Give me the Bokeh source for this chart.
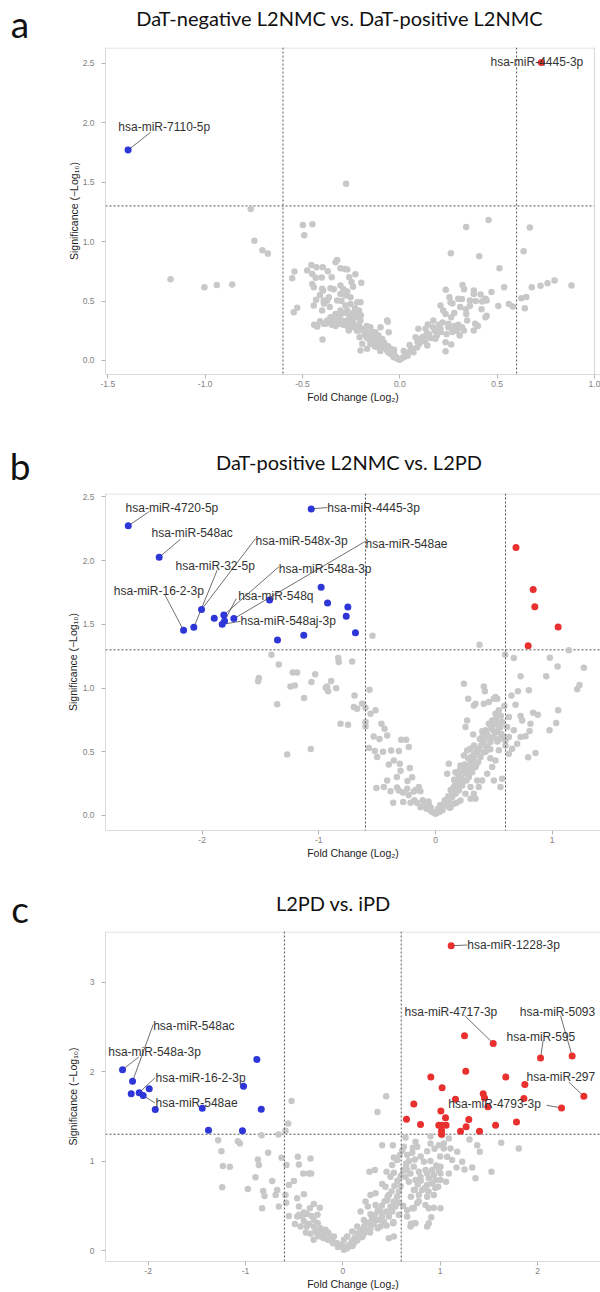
from bokeh.plotting import figure
from bokeh.models import Range1d, FixedTicker, Span, Label, Div
from bokeh.layouts import column
from bokeh.embed import file_html
from bokeh.resources import INLINE

# ---------------- data ----------------
# Panel a : DaT-negative L2NMC vs. DaT-positive L2NMC
a_grey_x = [-0.766, -0.747, -0.706, -0.678, -1.178, -1.004, -0.940, -0.861, -0.553, -0.541, -0.545, -0.527,
            -0.498, -0.449, -0.491, -0.276, 0.341, 0.456, 0.668, 0.262, 0.408, 0.512, 0.636, 0.882, 0.795,
            0.759, 0.723, 0.678, 0.650, 0.624, 0.642, 0.581, 0.560, 0.506, 0.536, 0.471, 0.446, 0.440, 0.401,
            0.423, 0.415, 0.380, 0.360, 0.322, 0.319, 0.341, 0.346, 0.380, 0.329, 0.307, 0.293, 0.261, 0.236,
            0.255, 0.261, 0.223, 0.235, 0.264, 0.209, 0.249, 0.209, 0.192, 0.172, 0.144, 0.132, 0.095, 0.081,
            0.106, 0.141, 0.183, 0.235, 0.264, 0.141, 0.089, 0.055, 0.038, 0.021, 0.000, -0.013, -0.031,
            -0.048, -0.065, -0.082, -0.099, -0.116, -0.134, -0.151, -0.168, -0.193, -0.202, -0.171, -0.207,
            -0.065, -0.057, -0.099, -0.125, -0.151, -0.185, -0.211, -0.236, -0.262, -0.202, -0.219, -0.245,
            -0.270, -0.296, -0.322, -0.347, -0.373, -0.391, -0.424, -0.397, -0.399, -0.356, -0.305, -0.270,
            -0.253, -0.219, -0.202, -0.253, -0.279, -0.305, -0.322, -0.391, -0.365, -0.442, -0.399, -0.356,
            -0.339, -0.305, -0.248, -0.198, -0.228, -0.305, -0.283, -0.270, -0.330, -0.322, -0.396, -0.428,
            -0.454, -0.476, -0.450, -0.432, -0.401, -0.450, -0.442, -0.394, -0.373, -0.279, -0.305, -0.330,
            -0.347, 0.235, -0.426, -0.062, 0.387, 0.446, -0.05, -0.08, -0.12, -0.03, 0.03, 0.06, 0.10, 0.12,
            0.15, 0.18, -0.15, -0.18, -0.22, -0.25, -0.28, -0.10, -0.02, 0.01, -0.06, -0.14, -0.24, -0.23,
            -0.21, 0.20, 0.22, 0.30, 0.31, 0.28,
            -0.44, -0.41, -0.38, -0.35, -0.33, -0.31, -0.29, -0.27, -0.26, -0.24, -0.23, -0.21, -0.19, -0.17,
            -0.16, -0.14, -0.13, -0.11, -0.09, -0.07, -0.06, -0.04, -0.03, -0.09, -0.11, -0.13, -0.17, -0.20,
            -0.22, -0.26, -0.29, -0.31, -0.36, -0.39, -0.41, -0.43, -0.27, -0.30, -0.24, -0.26, -0.29, -0.35,
            -0.37, 0.04, 0.07, 0.09, 0.11, 0.13, 0.16, 0.19, 0.21, 0.24, 0.27, 0.25, 0.28, 0.32, 0.34, 0.36,
            0.39, 0.42, 0.44, 0.38, 0.30, 0.27, 0.33, 0.17, 0.14, 0.05, 0.02]
a_grey_y = [1.275, 1.008, 0.927, 0.899, 0.683, 0.616, 0.636, 0.639, 0.692, 0.749, 0.406, 0.443,
            1.140, 1.146, 1.053, 1.487, 1.123, 1.182, 1.118, 0.902, 0.877, 0.776, 0.918, 0.630, 0.672,
            0.650, 0.628, 0.616, 0.535, 0.524, 0.440, 0.454, 0.476, 0.459, 0.616, 0.577, 0.376, 0.364, 0.291,
            0.496, 0.555, 0.588, 0.504, 0.636, 0.518, 0.392, 0.336, 0.252, 0.252, 0.210, 0.252, 0.280, 0.594,
            0.532, 0.490, 0.420, 0.392, 0.364, 0.462, 0.280, 0.266, 0.252, 0.336, 0.303, 0.266, 0.266, 0.196,
            0.182, 0.210, 0.182, 0.154, 0.134, 0.126, 0.112, 0.084, 0.056, 0.028, 0.006, 0.014, 0.028,
            0.056, 0.084, 0.112, 0.140, 0.112, 0.168, 0.140, 0.098, 0.140, 0.084, 0.196, 0.196,
            0.336, 0.238, 0.280, 0.238, 0.280, 0.266, 0.252, 0.280, 0.252, 0.336, 0.364, 0.350,
            0.336, 0.336, 0.336, 0.336, 0.336, 0.308, 0.286, 0.176, 0.420, 0.364, 0.420, 0.420,
            0.476, 0.490, 0.490, 0.532, 0.546, 0.560, 0.504, 0.504, 0.532, 0.462, 0.603, 0.608,
            0.599, 0.630, 0.661, 0.653, 0.725, 0.776, 0.770, 0.765, 0.826, 0.846, 0.784, 0.784,
            0.804, 0.756, 0.728, 0.695, 0.697, 0.644, 0.616, 0.588, 0.504, 0.462, 0.392, 0.392,
            0.364, 0.078, 0.288, 0.325, 0.308, 0.504, 0.10, 0.15, 0.18, 0.06, 0.05, 0.10, 0.14, 0.20,
            0.22, 0.25, 0.20, 0.22, 0.25, 0.30, 0.32, 0.08, 0.03, 0.02, 0.12, 0.24, 0.40, 0.44,
            0.42, 0.30, 0.32, 0.30, 0.45, 0.40,
            0.30, 0.33, 0.31, 0.30, 0.29, 0.31, 0.30, 0.29, 0.34, 0.32, 0.28, 0.30, 0.26, 0.24,
            0.18, 0.15, 0.12, 0.14, 0.11, 0.10, 0.07, 0.05, 0.09, 0.18, 0.21, 0.22, 0.29, 0.38,
            0.40, 0.38, 0.40, 0.38, 0.45, 0.48, 0.55, 0.51, 0.58, 0.50, 0.62, 0.70, 0.60, 0.70,
            0.75, 0.04, 0.07, 0.16, 0.18, 0.16, 0.19, 0.21, 0.24, 0.22, 0.24, 0.31, 0.29, 0.28, 0.43, 0.46,
            0.50, 0.43, 0.52, 0.56, 0.52, 0.48, 0.60, 0.28, 0.23, 0.13, 0.08]
a_down_x = [-1.396]
a_down_y = [1.77]
a_up_x = [0.727]
a_up_y = [2.507]
a_names = ["hsa-miR-7110-5p", "hsa-miR-4445-3p"]

# Panel b : DaT-positive L2NMC vs. L2PD
b_grey_x = [-0.540, 0.377, 0.597, 0.671, 1.143, 0.980, 1.046, 1.271, 0.949, 0.729, 0.800, 0.706, 0.651, 0.686,
            1.214, 1.234, 1.051, 1.034, 0.977, 0.857, 0.794, 0.729, 0.743, 0.837, 0.877, 0.814, 0.806, 0.771,
            0.729, 0.700, 0.657, 0.629, 0.629, 0.614, 0.629, 0.600, 0.671,
            -1.406, -1.343, -1.514, -1.520, -1.223, -1.186, -1.357, -1.243, -1.206, -1.126, -1.031, -1.063,
            -1.271, -1.069, -0.940, -0.920, -0.894, -0.851, -0.929, -0.834, -0.829, -0.714, -0.814, -0.749,
            -0.694, -0.700, -0.671, -0.629, -0.600, -0.566, -0.557, -0.514, -0.600, -0.600, -0.463, -0.437,
            -0.414, -0.571, -0.520, -0.500, -0.380, -0.314, -0.294, -0.251, -0.229, -0.357, -0.306, -0.220,
            -0.414, -0.331, -0.443, -0.506, -0.386, -0.314, -0.243, -0.143, -0.129, -0.186, -0.363, -0.277,
            -0.214, -0.157, -0.100, -0.057, -0.129, -0.077, -0.043, -0.014, 0.000, 0.029, 0.057, 0.086,
            0.114, 0.143, 0.171, 0.200, 0.229, 0.266, 0.286, 0.314, 0.343, 0.366, 0.386, 0.414, 0.443,
            0.471, 0.500, 0.529, 0.557, 0.571, 0.100, 0.071, 0.157, 0.214, 0.257, 0.300, 0.329, 0.357,
            0.271, 0.114, 0.100, 0.171, 0.214, 0.243, 0.300, 0.400, 0.429, 0.457, 0.486, 0.514, 0.543,
            0.529, 0.500, 0.457, 0.414, 0.329, 0.343, 0.280, 0.271, 0.257, 0.323, 0.243, 0.414, 0.423,
            0.514, 0.563, 0.543, 0.514, 0.486, 0.443, 0.400, 0.371, 0.329, 0.300, 0.343, 0.557, 0.571,
            0.500, 0.357, 0.300, 0.257, 0.214, 0.157, 0.129, 0.043,
            0.20, 0.23, 0.28, 0.33, 0.38, 0.45, 0.48, 0.52, 0.05, 0.09, -0.03, -0.09, 0.18, 0.36, 0.42,
            0.47, 0.55, 0.60,
            0.02, 0.04, 0.06, 0.08, 0.11, 0.13, 0.15, 0.17, 0.19, 0.22, 0.24, 0.26, 0.28, 0.30, 0.32, 0.34,
            0.35, 0.37, 0.39, 0.41, 0.43, 0.44, 0.46, 0.48, 0.50, 0.52, 0.54, 0.56, 0.58, 0.59, 0.25, 0.21,
            0.19, 0.16, 0.31, 0.40, 0.47, 0.53, 0.12, 0.18,
            -0.04, -0.06, -0.11, -0.18, -0.23, -0.28, -0.33, -0.24, -0.30, -0.40, -0.45, -0.48, -0.53, -0.20,
            -0.17]
b_grey_y = [1.411, 1.340, 1.262, 1.236, 1.296, 1.238, 1.170, 1.160, 1.092, 1.092, 0.982, 0.974, 0.942, 0.869,
            0.990, 1.024, 0.825, 0.725, 0.668, 0.490, 0.456, 0.780, 0.746, 0.806, 0.791, 0.720, 0.662, 0.621,
            0.615, 0.563, 0.524, 0.484, 0.772, 0.694, 0.615, 0.589, 0.668,
            1.262, 1.184, 1.079, 1.053, 1.123, 1.123, 0.872, 1.013, 1.021, 0.922, 1.108, 1.047,
            0.479, 0.521, 1.003, 0.974, 1.055, 0.998, 1.013, 1.236, 1.204, 1.209, 0.720, 0.712,
            0.942, 0.851, 0.838, 0.877, 0.846, 0.987, 0.798, 0.825, 0.733, 0.699, 0.720, 0.681,
            0.628, 0.529, 0.505, 0.458, 0.510, 0.505, 0.594, 0.594, 0.537, 0.432, 0.406, 0.372,
            0.275, 0.301, 0.223, 0.215, 0.191, 0.196, 0.209, 0.223, 0.191, 0.189, 0.100, 0.105,
            0.100, 0.097, 0.105, 0.086, 0.065, 0.052, 0.039, 0.021, 0.013, 0.026, 0.052, 0.079,
            0.118, 0.144, 0.170, 0.196, 0.236, 0.275, 0.301, 0.340, 0.380, 0.419, 0.458, 0.497, 0.537,
            0.576, 0.615, 0.655, 0.694, 0.733, 0.105, 0.092, 0.223, 0.275, 0.327, 0.406, 0.484, 0.524,
            0.510, 0.406, 0.327, 0.340, 0.393, 0.471, 0.524, 0.615, 0.668, 0.720, 0.746, 0.799, 0.825,
            0.916, 0.916, 0.890, 0.877, 0.864, 0.877, 0.916, 0.746, 0.694, 0.636, 1.034, 1.013, 0.974,
            0.930, 0.641, 0.511, 0.432, 0.380, 0.327, 0.275, 0.223, 0.170, 0.131, 0.131, 0.223, 0.288,
            0.275, 0.275, 0.223, 0.170, 0.118, 0.092, 0.065, 0.039,
            0.30, 0.35, 0.45, 0.55, 0.60, 0.62, 0.68, 0.72, 0.07, 0.12, 0.03, 0.07, 0.28, 0.50, 0.55,
            0.45, 0.60, 0.55,
            0.05, 0.08, 0.04, 0.12, 0.15, 0.20, 0.18, 0.25, 0.23, 0.30, 0.27, 0.36, 0.33, 0.38, 0.44, 0.47,
            0.40, 0.52, 0.55, 0.58, 0.50, 0.64, 0.60, 0.70, 0.66, 0.76, 0.70, 0.78, 0.62, 0.86, 0.40, 0.36,
            0.33, 0.28, 0.46, 0.66, 0.52, 0.58, 0.06, 0.10,
            0.06, 0.11, 0.12, 0.12, 0.16, 0.18, 0.22, 0.27, 0.35, 0.40, 0.50, 0.60, 0.62, 0.30,
            0.20]
b_down_x = [-2.633, -2.368, -1.065, -2.005, -2.159, -2.071, -1.896, -1.814, -1.808, -1.828, -1.728, -1.422,
            -1.354, -1.129, -0.980, -0.925, -0.751, -0.765, -0.686]
b_down_y = [2.273, 2.027, 2.406, 1.616, 1.453, 1.477, 1.548, 1.574, 1.526, 1.500, 1.545, 1.691,
            1.377, 1.414, 1.791, 1.668, 1.636, 1.563, 1.435]
b_up_x = [0.690, 0.837, 0.851, 1.051, 0.794]
b_up_y = [2.103, 1.773, 1.639, 1.479, 1.333]
b_names = ["hsa-miR-4720-5p", "hsa-miR-548ac", "hsa-miR-4445-3p", "hsa-miR-548x-3p", "hsa-miR-548ae",
           "hsa-miR-32-5p", "hsa-miR-548a-3p", "hsa-miR-16-2-3p", "hsa-miR-548q", "hsa-miR-548aj-3p"]

# Panel c : L2PD vs. iPD
c_grey_x = [-0.527, 0.445, 0.356, -0.561, -0.589, -0.661, -1.281, -1.078, -1.057, -1.247, -1.233, -1.161,
            -1.239, -0.835, -0.767, -0.873, -0.863, -0.897, -0.976, -0.818, -0.805, -0.829, -0.725, -0.674,
            -0.690, -0.657, -0.630, -0.579, -0.554, -0.589, -0.582, -0.554, -0.462, -0.451, -0.332, -0.407,
            -0.349, -0.325, -0.503, -0.469, -0.400, -0.451, -0.400, -0.339, -0.298, -0.236, -0.469, -0.417,
            -0.370, -0.322, -0.298, -0.257, -0.493, -0.434, -0.370, -0.298, -0.229, -0.178, -0.332, -0.264,
            -0.202, -0.143, -0.092, -0.161, -0.109, -0.058, -0.024, 0.011, 0.045, 0.079, 0.113, 0.148,
            0.182, 0.216, 0.250, 0.284, 0.319, 0.370, 0.404, 0.449, 0.490, 0.524, 0.558, 0.576, 0.593,
            0.558, 0.586, 0.610, 0.524, 0.507, 0.524, 0.490, 0.449, 0.404, 0.514, 0.274, 0.329, 0.404,
            0.438, 0.336, 0.284, 0.233, 0.257, 0.182, 0.284, 0.387, 0.336, 0.456, 0.473, 0.319, 0.216,
            0.148, 0.096, 0.045, 0.011, -0.006, 0.387, 0.421, 0.473, 0.507, 0.541, 0.576, 0.518, 0.473,
            0.524, 0.576, 0.593, 0.644, 0.661, 0.651, 0.627, 0.644, 0.661, 0.713, 0.747, 0.764, 0.740,
            0.832, 0.729, 0.781, 0.695, 0.678, 0.747, 0.798, 0.866, 0.883, 0.935, 0.986, 1.003, 0.918,
            0.952, 0.866, 0.815, 0.729, 0.781, 0.866, 0.935, 0.979, 1.003, 1.003, 1.061, 1.089, 0.849,
            0.764, 0.713, 0.729, 0.661, 0.729, 0.695, 0.747, 0.883, 0.935, 0.908, 0.883, 0.866, 1.003,
            0.866, 0.942, 0.901, 0.986, 1.037, 1.089, 1.020, 0.901, 1.072, 1.123, 1.175, 1.226, 1.168,
            1.250, 1.329, 1.363, 1.407, 1.380, 1.301, 1.527, 1.627, 1.808, 1.106, 1.037,
            0.03, 0.06, 0.09, 0.12, 0.15, 0.19, 0.22, 0.26, 0.30, 0.33, 0.36, 0.40, 0.43, 0.46, 0.50, 0.53,
            0.56, 0.60, 0.62, 0.65, 0.68, 0.70, 0.74, 0.77, 0.80, 0.84, 0.88, 0.92, 0.95, 0.62, 0.66, 0.58,
            0.52, 0.45, 0.36, 0.28, 0.20, 0.10, 0.70, 0.78, 0.85, 0.90, 0.96, 1.00, 0.80, 0.72,
            -0.05, -0.10, -0.15, -0.20, -0.25, -0.20, -0.15, -0.28, -0.35, -0.40, -0.45, -0.38, -0.30, -0.10,
            -0.26]
c_grey_y = [1.672, 1.725, 1.550, 1.420, 1.338, 1.297, 1.234, 1.223, 1.197, 1.111, 0.944, 0.937,
            0.706, 1.289, 1.093, 1.018, 0.955, 0.818, 0.688, 0.666, 0.610, 0.472, 0.777, 0.677,
            0.621, 0.491, 1.037, 0.955, 0.732, 0.621, 0.535, 0.387, 1.048, 0.963, 1.030, 0.862,
            0.862, 0.862, 0.777, 0.584, 0.628, 0.491, 0.424, 0.472, 0.520, 0.479, 0.379, 0.379,
            0.409, 0.387, 0.342, 0.305, 0.297, 0.268, 0.268, 0.268, 0.249, 0.231, 0.186, 0.193,
            0.186, 0.175, 0.156, 0.127, 0.101, 0.082, 0.045, 0.008, 0.026, 0.052, 0.082, 0.112,
            0.149, 0.186, 0.223, 0.249, 0.297, 0.342, 0.387, 0.435, 0.491, 0.547, 0.602, 0.658, 0.721,
            1.011, 1.067, 1.115, 1.041, 0.955, 0.870, 0.825, 0.881, 1.178, 1.178, 0.881, 0.899, 0.743,
            0.713, 0.639, 0.621, 0.547, 0.491, 0.435, 0.405, 0.435, 0.509, 0.565, 0.621, 0.342, 0.342,
            0.268, 0.212, 0.156, 0.119, 0.064, 0.268, 0.324, 0.379, 0.435, 0.491, 0.535, 0.305, 0.138,
            0.156, 0.398, 0.825, 0.825, 0.899, 0.974, 1.159, 1.264, 1.067, 1.093, 1.216, 1.159, 1.018,
            0.992, 0.937, 0.881, 0.862, 0.769, 0.788, 0.825, 0.862, 0.807, 0.844, 0.899, 0.937, 0.899,
            0.788, 0.732, 0.677, 0.677, 0.621, 0.602, 0.621, 0.713, 0.788, 0.862, 0.769, 0.862, 0.509,
            0.528, 0.472, 0.472, 0.379, 0.305, 0.268, 0.305, 0.472, 0.479, 0.372, 0.305, 0.268, 0.472,
            1.111, 1.137, 1.197, 1.178, 1.197, 1.252, 1.289, 1.278, 1.048, 1.011, 1.104, 0.992, 0.929,
            0.907, 0.929, 0.807, 1.104, 1.178, 1.241, 0.881, 1.204, 1.141, 1.141, 1.141,
            0.03, 0.06, 0.10, 0.14, 0.19, 0.23, 0.27, 0.31, 0.36, 0.40, 0.45, 0.50, 0.55, 0.60, 0.66, 0.72,
            0.78, 0.84, 0.90, 0.95, 1.00, 0.60, 0.68, 0.74, 0.78, 0.70, 0.66, 0.75, 0.70, 0.50, 0.45, 0.40,
            0.32, 0.28, 0.25, 0.20, 0.15, 0.05, 0.30, 0.55, 0.90, 1.00, 0.95, 1.05, 1.05, 1.15,
            0.04, 0.08, 0.12, 0.14, 0.16, 0.22, 0.20, 0.22, 0.30, 0.33, 0.40, 0.20, 0.12, 0.15,
            0.40]
c_down_x = [-2.263, -2.160, -2.174, -2.092, -2.051, -1.989, -0.883, -1.020, -1.927, -1.444, -0.838,
            -1.380, -1.031]
c_down_y = [2.022, 1.892, 1.754, 1.765, 1.732, 1.810, 2.137, 1.836, 1.576, 1.590, 1.579, 1.345, 1.338]
c_up_x = [1.113, 1.250, 1.545, 2.031, 2.356, 0.904, 1.263, 1.674, 1.020, 1.870, 2.476, 1.442, 1.456,
          1.157, 1.860, 0.729, 1.490, 2.247, 1.007, 1.055, 0.654, 0.798, 0.986, 1.020, 1.061, 1.294,
          1.267, 1.209, 1.404, 1.569, 1.784, 1.014, 1.014]
c_up_y = [3.408, 2.401, 2.316, 2.152, 2.174, 1.940, 2.003, 1.940, 1.821, 1.855, 1.724, 1.753, 1.706,
          1.691, 1.699, 1.639, 1.606, 1.594, 1.561, 1.483, 1.468, 1.408, 1.401, 1.401, 1.401, 1.464,
          1.383, 1.334, 1.334, 1.401, 1.438, 1.338, 1.301]
c_names = ["hsa-miR-1228-3p", "hsa-miR-4717-3p", "hsa-miR-5093", "hsa-miR-595", "hsa-miR-297",
           "hsa-miR-4793-3p", "hsa-miR-548ac", "hsa-miR-548a-3p", "hsa-miR-16-2-3p", "hsa-miR-548ae"]

titles = ["DaT-negative L2NMC vs. DaT-positive L2NMC", "DaT-positive L2NMC vs. L2PD", "L2PD vs. iPD"]
letters = ["a", "b", "c"]

a_xticks = [-1.5, -1.0, -0.5, 0.0, 0.5, 1.0]
a_xlabels = ["-1.5", "-1.0", "-0.5", "0.0", "0.5", "1.0"]
a_yticks = [0.0, 0.5, 1.0, 1.5, 2.0, 2.5]
a_ylabels = ["0.0", "0.5", "1.0", "1.5", "2.0", "2.5"]
b_xticks = [-2, -1, 0, 1]
b_xlabels = ["-2", "-1", "0", "1"]
b_yticks = [0.0, 0.5, 1.0, 1.5, 2.0, 2.5]
b_ylabels = ["0.0", "0.5", "1.0", "1.5", "2.0", "2.5"]
c_xticks = [-2, -1, 0, 1, 2]
c_xlabels = ["-2", "-1", "0", "1", "2"]
c_yticks = [0, 1, 2, 3]
c_ylabels = ["0", "1", "2", "3"]

fc_cut = 0.6
p_cut = 1.3

# ---------------- styling / layout ----------------
W = 600
GREY = "#c8c8c8"
BLUE = "#2f36d8"
RED = "#e8302e"
FRAME = "#dadada"


def make_header(h, title, t_cx, t_top, letter, l_cx, l_top):
    span = ('<span style="position:absolute;left:{x}px;top:{t}px;transform:translateX(-50%);'
            'font-family:Lato,sans-serif;font-size:{s}px;line-height:{s}px;white-space:nowrap;'
            'color:#111111;">{txt}</span>')
    html = ('<div style="position:relative;width:%dpx;height:%dpx;">' % (W, h)
            + span.format(x=t_cx, t=t_top, s=20, txt=title)
            + span.format(x=l_cx, t=l_top, s=37, txt=letter)
            + '</div>')
    return Div(text=html, width=W, height=h, margin=0)


def make_panel(height, bb, xr, yr, x_vis_end, xt, xl, yt, yl, ylab_standoff,
               gx, gy, dx, dy, ux, uy, names, name_pos, segs, right_border):
    p = figure(width=W, height=height, x_range=Range1d(*xr), y_range=Range1d(*yr),
               output_backend="svg", toolbar_location=None,
               min_border_left=105, min_border_right=0, min_border_top=2, min_border_bottom=bb)
    p.grid.visible = False
    p.outline_line_color = None

    for ax in (p.xaxis, p.yaxis):
        ax.axis_line_color = FRAME
        ax.major_tick_line_color = "#b4b4b4"
        ax.minor_tick_line_color = None
        ax.major_tick_in = 0
        ax.major_tick_out = 4
        ax.major_label_text_font = "Liberation Sans"
        ax.major_label_text_font_size = "8.5px"
        ax.major_label_text_color = "#7f7f7f"
        ax.axis_label_text_font = "Liberation Sans"
        ax.axis_label_text_font_size = "10.5px"
        ax.axis_label_text_font_style = "normal"
        ax.axis_label_text_color = "#1e1e1e"
    p.xaxis.ticker = FixedTicker(ticks=xt)
    p.xaxis.major_label_overrides = dict(zip(xt, xl))
    p.yaxis.ticker = FixedTicker(ticks=yt)
    p.yaxis.major_label_overrides = dict(zip(yt, yl))
    p.xaxis.axis_label = "Fold Change (Log\u2082)"
    p.yaxis.axis_label = "Significance (\u2212Log\u2081\u2080)"
    p.xaxis.major_label_standoff = 2
    p.xaxis.axis_label_standoff = 1
    p.yaxis.major_label_standoff = 7
    p.yaxis.axis_label_standoff = ylab_standoff

    # top border (and right border for panel a), kept inside the frame
    ytop = yr[1] - (yr[1] - yr[0]) * 0.0015
    p.segment([xr[0]], [ytop], [x_vis_end], [ytop], line_color=FRAME, line_width=1.2)
    if right_border:
        p.add_layout(Span(location=x_vis_end, dimension="height", line_color=FRAME, line_width=1.2))

    for loc in (-fc_cut, fc_cut):
        p.add_layout(Span(location=loc, dimension="height", line_color="#555555",
                          line_width=1, line_dash="2 2"))
    p.segment([xr[0]], [p_cut], [x_vis_end], [p_cut], line_color="#555555", line_width=1, line_dash="2 2")

    if segs:
        p.segment([s[0] for s in segs], [s[1] for s in segs], [s[2] for s in segs], [s[3] for s in segs],
                  line_color="#4a4a4a", line_width=0.8)

    p.scatter(gx, gy, size=6.5, color=GREY, line_color=None)
    p.scatter(dx, dy, size=7, color=BLUE, line_color=None)
    p.scatter(ux, uy, size=7, color=RED, line_color=None)

    for name, (lx, ly) in zip(names, name_pos):
        p.add_layout(Label(x=lx, y=ly, text=name, text_font="Liberation Sans", text_font_size="12px",
                           text_color="#333333", text_align="left", text_baseline="middle"))
    return p


ha = make_header(45, titles[0], 339.5, 8, letters[0], 20, 5)
pa = make_panel(367, 38, (-1.512, 1.031), (-0.118, 2.633), 1.0, a_xticks, a_xlabels, a_yticks, a_ylabels, 0,
                a_grey_x, a_grey_y, a_down_x, a_down_y, a_up_x, a_up_y, a_names,
                [(-1.446, 1.961), (0.466, 2.515)],
                [(a_down_x[0], a_down_y[0], -1.28, 1.92)], True)

hb = make_header(79, titles[1], 349, 40, letters[1], 20, 35)
pb = make_panel(371, 32, (-2.828, 1.414), (-0.118, 2.527), 1.414, b_xticks, b_xlabels, b_yticks, b_ylabels, 1,
                b_grey_x, b_grey_y, b_down_x, b_down_y, b_up_x, b_up_y, b_names,
                [(-2.656, 2.417), (-2.434, 2.215), (-0.928, 2.417), (-1.542, 2.155), (-0.600, 2.134),
                 (-2.228, 1.958), (-1.343, 1.932), (-2.757, 1.762), (-1.691, 1.723), (-1.671, 1.524)],
                [(-2.633, 2.273, -2.457, 2.383), (-2.368, 2.027, -2.185, 2.168), (-1.065, 2.406, -0.928, 2.417),
                 (-2.005, 1.616, -1.542, 2.174), (-1.728, 1.545, -0.600, 2.152), (-2.071, 1.477, -1.871, 1.925),
                 (-1.814, 1.574, -1.343, 1.951), (-2.159, 1.453, -2.317, 1.728), (-1.808, 1.526, -1.708, 1.702),
                 (-1.828, 1.500, -1.671, 1.524)], False)

hc = make_header(67, titles[2], 333, 31, letters[2], 20, 28)
pc = make_panel(363, 30, (-2.438, 2.647), (-0.123, 3.567), 2.647, c_xticks, c_xlabels, c_yticks, c_ylabels, 8,
                c_grey_x, c_grey_y, c_down_x, c_down_y, c_up_x, c_up_y, c_names,
                [(1.278, 3.416), (0.634, 2.672), (1.818, 2.672), (1.682, 2.386), (1.887, 1.940),
                 (1.083, 1.643), (-1.948, 2.505), (-2.410, 2.218), (-1.924, 1.929), (-1.924, 1.650)],
                [(1.113, 3.408, 1.278, 3.416), (1.545, 2.316, 1.250, 2.628), (2.356, 2.174, 2.236, 2.628),
                 (2.031, 2.152, 2.058, 2.349), (2.476, 1.724, 2.321, 1.884), (2.247, 1.594, 2.092, 1.624),
                 (-2.160, 1.892, -1.948, 2.527), (-2.263, 2.022, -2.096, 2.163), (-2.092, 1.765, -1.93, 1.93),
                 (-2.051, 1.732, -1.93, 1.65)], False)

layout = column(ha, pa, hb, pb, hc, pc, spacing=0)
open("out.html", "w").write(file_html(layout, INLINE))
